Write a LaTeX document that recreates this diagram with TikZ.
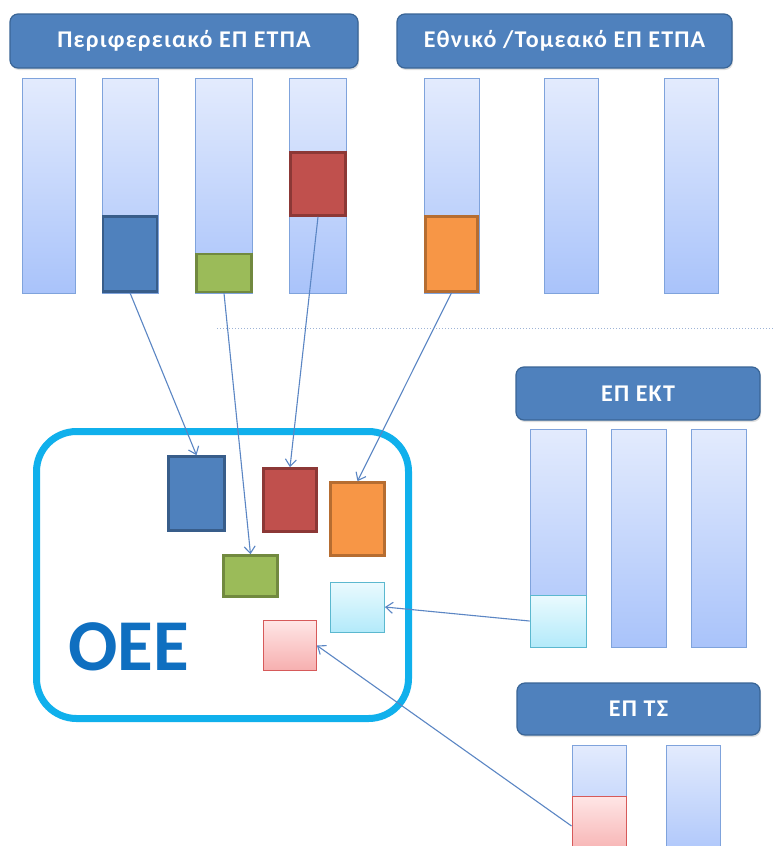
\documentclass[tikz,border=0pt]{standalone}
\usepackage{fontspec}
\setmainfont{Carlito}
\newfontfamily\hdrfont[LetterSpace=5]{Carlito}
\usetikzlibrary{arrows.meta,shadows}
\definecolor{hdrfill}{HTML}{4F81BD}
\definecolor{hdrdraw}{HTML}{3A6596}
\definecolor{bartop}{HTML}{E3EBFD}
\definecolor{barbot}{HTML}{A9C3FA}
\definecolor{bardraw}{HTML}{7FA3DC}
\definecolor{cblue}{HTML}{4F81BD}
\definecolor{cbluedk}{HTML}{385D8A}
\definecolor{cred}{HTML}{C0504D}
\definecolor{creddk}{HTML}{8C3836}
\definecolor{cgreen}{HTML}{9BBB59}
\definecolor{cgreendk}{HTML}{71893F}
\definecolor{corange}{HTML}{F79646}
\definecolor{corangedk}{HTML}{B66D31}
\definecolor{ccyantop}{HTML}{EAFAFE}
\definecolor{ccyanbot}{HTML}{B3EAFA}
\definecolor{ccyandk}{HTML}{5BB8CF}
\definecolor{cpinktop}{HTML}{FFE6E6}
\definecolor{cpinkbot}{HTML}{F6AFAF}
\definecolor{cpinkdk}{HTML}{D65A5A}
\definecolor{oeeframe}{HTML}{10B0EC}
\definecolor{oeetext}{HTML}{0F6FC0}
\definecolor{arrowcol}{HTML}{5B86C4}
\definecolor{dotcol}{HTML}{9DB3D6}
\tikzset{
  hdr/.style={draw=hdrdraw, line width=1.2pt, fill=hdrfill, rounded corners=8pt,
    drop shadow={opacity=0.25, shadow xshift=1pt, shadow yshift=-2pt},
    text=white, font=\hdrfont\fontsize{24}{28}\selectfont\bfseries, inner sep=0pt},
  bar/.style={draw=bardraw, line width=0.6pt, top color=bartop, bottom color=barbot,
    inner sep=0pt},
  piece/.style={line width=2.6pt, inner sep=0pt},
  lpiece/.style={line width=0.9pt, inner sep=0pt},
  conn/.style={draw=arrowcol, line width=1.1pt, -{Straight Barb[length=7pt,width=11pt]}}
}
\begin{document}
\begin{tikzpicture}[x=1pt,y=-1pt]
\clip (0,0) rectangle (773,846);
\fill[white] (0,0) rectangle (773,846);
% headers
\node[hdr, minimum width=348, minimum height=54] (h1) at (184,41) {Περιφερειακό ΕΠ ΕΤΠΑ};
\node[hdr, minimum width=335, minimum height=54] (h2) at (564.5,41) {Εθνικό /Τομεακό ΕΠ ΕΤΠΑ};
\node[hdr, minimum width=244, minimum height=53] (h3) at (638,393.5) {ΕΠ ΕΚΤ};
\node[hdr, minimum width=243, minimum height=52] (h4) at (638.5,709) {ΕΠ ΤΣ};
% top bars
\node[bar, minimum width=53, minimum height=215] (b1) at (48.5,185.5) {};
\node[bar, minimum width=56, minimum height=215] (b2) at (130,185.5) {};
\node[bar, minimum width=57, minimum height=215] (b3) at (223.5,185.5) {};
\node[bar, minimum width=57, minimum height=215] (b4) at (317.5,185.5) {};
\node[bar, minimum width=55, minimum height=215] (b5) at (451.5,185.5) {};
\node[bar, minimum width=54, minimum height=215] (b6) at (571,185.5) {};
\node[bar, minimum width=54, minimum height=215] (b7) at (691,185.5) {};
% EKT bars
\node[bar, minimum width=56, minimum height=218] (e1) at (558,538) {};
\node[bar, minimum width=55, minimum height=218] (e2) at (638.5,538) {};
\node[bar, minimum width=55, minimum height=218] (e3) at (718.5,538) {};
% TS bars
\node[bar, minimum width=54, minimum height=120] (t1) at (599,805) {};
\node[bar, minimum width=54, minimum height=120] (t2) at (693,805) {};
% pieces in top bars
\node[piece, draw=cbluedk, fill=cblue, minimum width=54, minimum height=75] (pblue) at (130,254) {};
\node[piece, draw=cgreendk, fill=cgreen, minimum width=55, minimum height=38] (pgreen) at (224,273) {};
\node[piece, draw=creddk, fill=cred, minimum width=55, minimum height=63] (pred) at (318,184) {};
\node[piece, draw=corangedk, fill=corange, minimum width=52, minimum height=75] (porange) at (451.5,254) {};
\node[lpiece, draw=ccyandk, top color=ccyantop, bottom color=ccyanbot, minimum width=56, minimum height=52] (pcyan) at (558,621) {};
\node[lpiece, draw=cpinkdk, top color=cpinktop, bottom color=cpinkbot, minimum width=54, minimum height=60] (ppink) at (599,826) {};
% dotted separator
\coordinate (dl) at (217,328);
\coordinate (dr) at (773,328);
\draw[dotcol, line width=1pt, dotted] (dl) -- (dr);
% OEE frame
\node[draw=oeeframe, line width=7pt, rounded corners=40pt, minimum width=372, minimum height=287, inner sep=0pt] (oee) at (222.5,575) {};
\node[text=oeetext, font=\fontsize{73}{75}\selectfont\bfseries, anchor=base west, inner sep=0pt] (oeet) at (68,670) {ΟΕΕ};
% inner pieces
\node[piece, draw=cbluedk, fill=cblue, minimum width=56, minimum height=74] (iblue) at (196.5,493.5) {};
\node[piece, draw=creddk, fill=cred, minimum width=53, minimum height=63] (ired) at (290,500) {};
\node[piece, draw=corangedk, fill=corange, minimum width=54, minimum height=73] (iorange) at (357.5,519) {};
\node[piece, draw=cgreendk, fill=cgreen, minimum width=54, minimum height=41] (igreen) at (250.5,576) {};
\node[lpiece, draw=ccyandk, top color=ccyantop, bottom color=ccyanbot, minimum width=54, minimum height=50] (icyan) at (357.5,607) {};
\node[lpiece, draw=cpinkdk, top color=cpinktop, bottom color=cpinkbot, minimum width=53, minimum height=50] (ipink) at (290,645.5) {};
% connectors
\draw[conn] (pblue.south) -- (iblue.north);
\draw[conn] (pgreen.south) -- (igreen.north);
\draw[conn] (pred.south) -- (ired.north);
\draw[conn] (porange.south) -- (iorange.north);
\draw[conn] (pcyan.west) -- (icyan.east);
\draw[conn] (ppink.west) -- (ipink.east);
\end{tikzpicture}
\end{document}
